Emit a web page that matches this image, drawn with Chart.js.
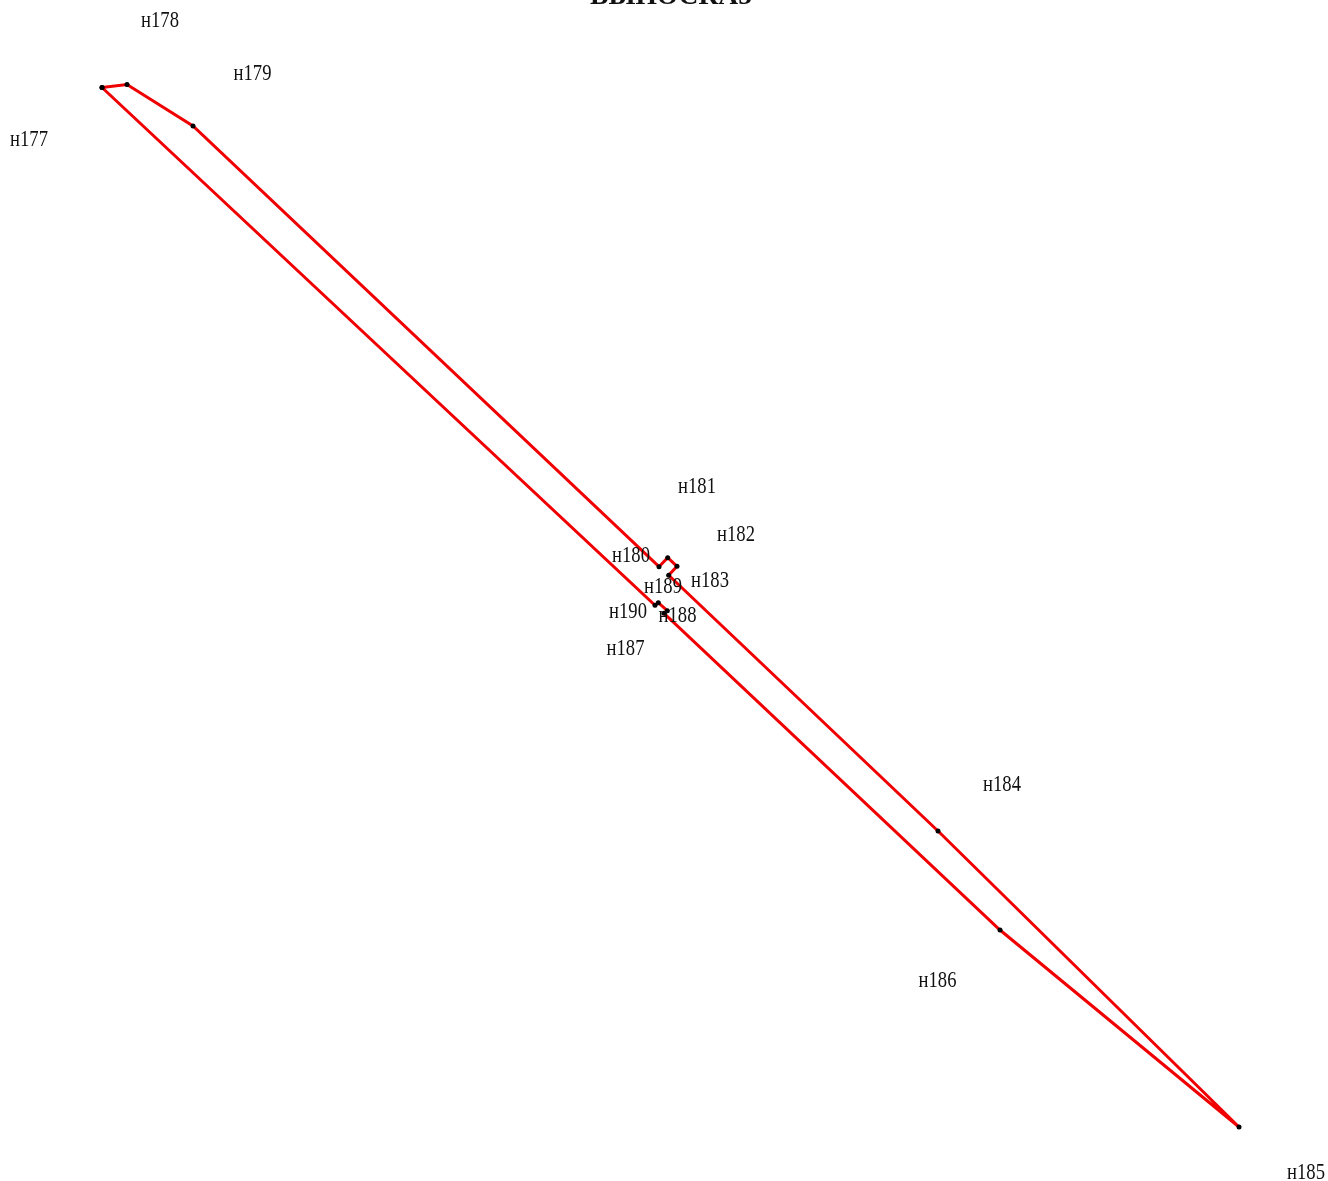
<!DOCTYPE html>
<html>
<head>
<meta charset="utf-8">
<script src="https://cdn.jsdelivr.net/npm/chart.js@4"></script>
<style>
    html, body { margin: 0; padding: 0; background: #fff; overflow: hidden; }
    #wrap { width: 1328px; height: 1181px; }
</style>
</head>
<body>
<div id="wrap"><canvas id="planChart"></canvas></div>
<script>
const heading = 'ВЫНОСКА5';
const pointNames = ['н177', 'н178', 'н179', 'н180', 'н181', 'н182', 'н183', 'н184', 'н185', 'н186', 'н187', 'н188', 'н189', 'н190'];
const eastings = [102, 127, 193, 659, 667.7, 677, 668.7, 938, 1239, 1000, 664, 667.3, 658.3, 655];
const northings = [87.5, 84.5, 126, 566.7, 557.7, 566.3, 575.3, 831, 1127, 930, 613.3, 610.7, 602.7, 605.3];
const labelEastings = [29, 160, 252.5, 631, 697, 736, 710, 1002, 1306, 937.5, 625.5, 677.5, 663, 628];
const labelNorthings = [140, 20.5, 74, 555.5, 486.5, 535, 581, 785, 1173, 981, 649, 616, 586.5, 611.5];

// the boundary closes back on н177
const outline = eastings.map((x, i) => ({ x: x, y: northings[i] }));
outline.push({ x: eastings[0], y: northings[0] });

const pointLabels = {
    id: 'pointLabels',
    afterDatasetsDraw(chart) {
        const { ctx, scales } = chart;
        ctx.save();
        ctx.fillStyle = '#111';
        ctx.textAlign = 'center';
        ctx.textBaseline = 'middle';
        ctx.font = '23px "Liberation Serif"';
        pointNames.forEach((name, i) => {
            // the scanned labels are narrower than the font
            ctx.save();
            ctx.translate(scales.x.getPixelForValue(labelEastings[i]), scales.y.getPixelForValue(labelNorthings[i]));
            ctx.scale(0.81, 1);
            ctx.fillText(name, 0, 0);
            ctx.restore();
        });
        // heading is cut by the top edge in the original
        ctx.font = 'bold 27.5px "Liberation Serif"';
        ctx.textBaseline = 'alphabetic';
        ctx.fillText(heading, scales.x.getPixelForValue(671), scales.y.getPixelForValue(4));
        ctx.restore();
    }
};

new Chart(document.getElementById('planChart'), {
    type: 'scatter',
    data: {
        datasets: [{
            data: outline,
            showLine: true,
            borderColor: '#f00000',
            borderWidth: 3,
            pointRadius: 2.5,
            pointBackgroundColor: '#000',
            pointBorderWidth: 0
        }]
    },
    options: {
        responsive: true,
        maintainAspectRatio: false,
        animation: false,
        layout: { padding: 0, autoPadding: false },
        scales: {
            x: { type: 'linear', display: false, min: 0, max: 1328 },
            y: { type: 'linear', display: false, min: 0, max: 1181, reverse: true }
        },
        plugins: {
            legend: { display: false },
            tooltip: { enabled: false }
        }
    },
    plugins: [pointLabels]
});
</script>
</body>
</html>
